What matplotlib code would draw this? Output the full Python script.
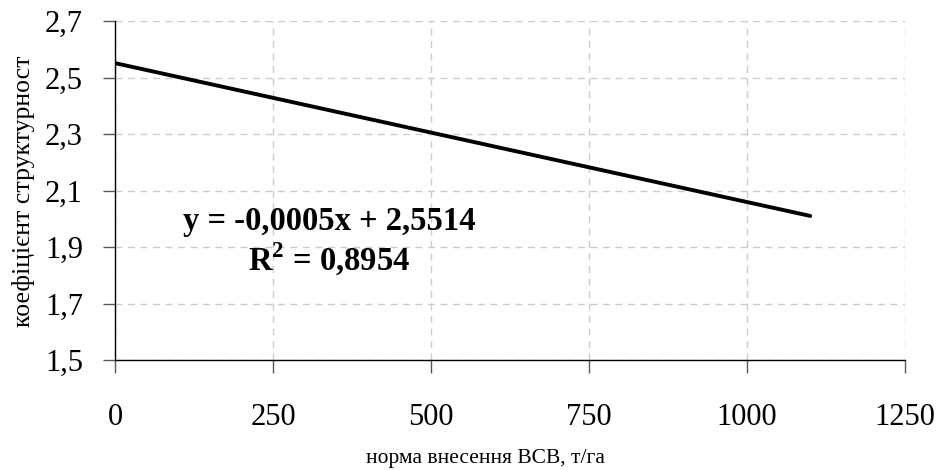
import matplotlib
matplotlib.use("Agg")
import matplotlib.pyplot as plt

# trend line: application rate vs structure coefficient
rate = [0, 1100]
coef = [2.551, 2.01]
x_ticks = [0, 250, 500, 750, 1000, 1250]
y_ticks = [1.5, 1.7, 1.9, 2.1, 2.3, 2.5, 2.7]
y_tick_labels = ["1,5", "1,7", "1,9", "2,1", "2,3", "2,5", "2,7"]
eq_text = "y = -0,0005x + 2,5514"
r2_text = "R$^\\mathbf{2}$ = 0,8954"

plt.rcParams["font.family"] = ["Liberation Serif", "DejaVu Serif"]
plt.rcParams["mathtext.fontset"] = "custom"
plt.rcParams["mathtext.rm"] = "Liberation Serif"
plt.rcParams["mathtext.bf"] = "Liberation Serif:bold"

fig = plt.figure(figsize=(9.4, 4.7), dpi=100)
ax = fig.add_axes([0.1223, 0.234, 0.8405, 0.7213])

ax.plot(rate, coef, color="black", linewidth=2.8, solid_capstyle="round", zorder=3)

ax.set_xlim(0, 1250)
ax.set_ylim(1.5, 2.7)
ax.set_xticks(x_ticks)
ax.set_yticks(y_ticks)
ax.set_yticklabels(y_tick_labels)
ax.tick_params(axis="both", labelsize=22, direction="out", length=9,
               width=1, color="0.35")
ax.tick_params(axis="x", pad=22)
ax.tick_params(axis="y", pad=14)

ax.grid(True, linestyle=(0, (5, 4)), color="#cccccc", linewidth=1)
ax.set_axisbelow(True)
for side in ("top", "right"):
    ax.spines[side].set_visible(False)
for side in ("left", "bottom"):
    ax.spines[side].set_linewidth(1)
    ax.spines[side].set_color("black")

# axis titles placed in figure coords, as in the source chart
fig.text(485 / 940, 1 - 459 / 470, "норма внесення ВСВ, т/га",
         fontsize=15.5, ha="center", va="center")
fig.text(24 / 940, 1 - 191 / 470, "коефіцієнт структурност",
         fontsize=18.5, rotation=90, ha="center", va="center")

ax.text(339, 1.99, eq_text, fontsize=23.5, fontweight="bold",
        ha="center", va="center")
ax.text(339, 1.855, r2_text, fontsize=23.5, fontweight="bold",
        ha="center", va="center")

fig.savefig("out.png", dpi=100)
